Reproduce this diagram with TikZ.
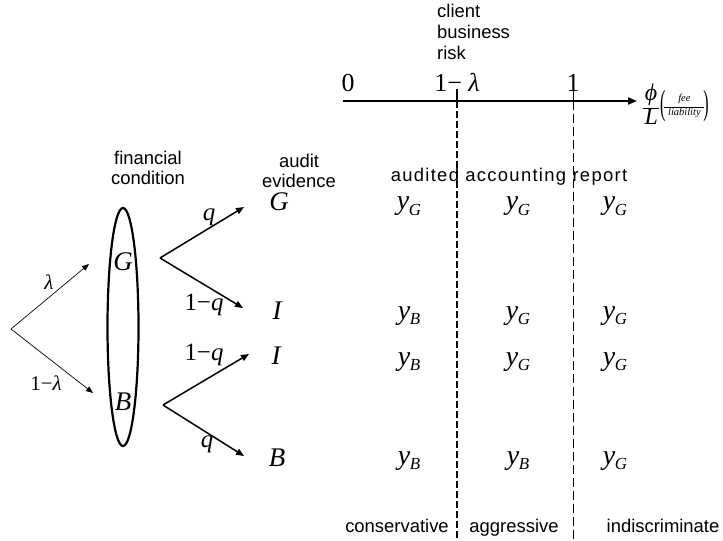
\documentclass[tikz,border=0pt]{standalone}
\usepackage{fontspec}
\setmainfont{Liberation Sans}
\newfontfamily\tms{Liberation Serif}
\usetikzlibrary{arrows.meta}
\newcommand\mi[1]{{\tms\itshape #1}}
\newcommand\myv[1]{{\tms\itshape y\kern-0.5pt\raisebox{-0.2em}{\fontsize{17}{17}\selectfont #1}}}
\newcommand\tallparen[1]{\raisebox{-0.28em}{\scalebox{0.8}[1.75]{\fontsize{20}{20}\tms #1}}}
\begin{document}
\begin{tikzpicture}[x=1bp,y=-1bp,
  lab/.style={font=\fontsize{18.5}{20}\selectfont, align=center, inner sep=0pt},
  blab/.style={font=\fontsize{18.5}{20}\selectfont, inner sep=0pt, anchor=base},
  mlab/.style={font=\fontsize{27}{29}\tms\itshape, inner sep=0pt},
  ylab/.style={font=\fontsize{28}{30}\selectfont, inner sep=0pt, anchor=base},
  plab/.style={font=\fontsize{26}{28}\tms, inner sep=0pt, anchor=base},
  slab/.style={font=\fontsize{21}{23}\tms, inner sep=0pt},
  qlab/.style={font=\fontsize{25}{27}\tms, inner sep=0pt},
  thinarr/.style={-{Triangle[length=7bp,width=5.5bp]}, line width=0.7bp},
  thkarr/.style={-{Triangle[length=8bp,width=6.5bp]}, line width=1.5bp},
  ]
\useasboundingbox (0,0) rectangle (723,541);
% axis
\coordinate (ax0) at (343,101);
\coordinate (ax1) at (637,101);
\draw[-{Triangle[length=9bp,width=7bp]}, line width=1.9bp] (ax0) -- (ax1);
\node[plab] (zero) at (348,92) {0};
\node[plab] (oneml) at (457,92) {1− \mi{λ}};
\node[plab] (one) at (573,92) {1};
\node[anchor=west, inner sep=0pt] (phi) at (643,106) {%
  \begin{tabular}{@{}c@{}}{\fontsize{24}{24}\tms\itshape ϕ}\\[-5pt]\rule{16pt}{0.6pt}\\[-3pt]{\fontsize{24}{24}\tms\itshape L}\end{tabular}%
  \kern1pt$\vcenter{\hbox{\tallparen{(}}}\kern-1pt\vcenter{\hbox{\begin{tabular}{@{}c@{}}{\fontsize{10.5}{10.5}\tms\itshape fee}\\[-6pt]\rule{40pt}{0.5pt}\\[-4pt]{\fontsize{10.5}{10.5}\tms\itshape liability}\end{tabular}}}\kern-1pt\vcenter{\hbox{\tallparen{)}}}$};
\node[blab, anchor=base west] (cbr1) at (437,18) {client};
\node[blab, anchor=base west] (cbr2) at (437,39) {business};
\node[blab, anchor=base west] (cbr3) at (437,60) {risk};
% ticks and dashed lines
\coordinate (t1a) at (457,89);
\coordinate (t1b) at (457,541);
\coordinate (t2a) at (573,89);
\coordinate (t2b) at (573,541);
\draw[line width=2.6bp] (t1a) -- (457,101);
\draw[line width=2.6bp, dash pattern=on 7bp off 3bp] (457,101) -- (t1b);
\draw[line width=0.7bp] (t2a) -- (573,101);
\draw[line width=0.7bp, dash pattern=on 9bp off 4bp] (573,101) -- (t2b);
% headings
\node[blab] (aar) at (509,182) {\addfontfeature{LetterSpace=7}audited accounting report};
\node[lab] (fc) at (148,168) {financial\\condition};
\node[lab] (ae) at (299,171) {audit\\evidence};
% ellipse
\draw[line width=2.2bp] (123,327) ellipse [x radius=15.5, y radius=119];
\node[mlab] (sG) at (123,262) {G};
\node[mlab] (sB) at (123,402) {B};
% root branches
\coordinate (root) at (11,329);
\coordinate (rG) at (89,264);
\coordinate (rB) at (93,393);
\draw[thinarr] (root) -- (rG);
\draw[thinarr] (root) -- (rB);
\node[slab] (lam) at (49,282) {\mi{λ}};
\node[slab] (olam) at (46,383) {1−\mi{λ}};
% evidence branches from G
\coordinate (vG) at (160,258);
\coordinate (eGG) at (244,207);
\coordinate (eGI) at (243,308);
\draw[thkarr] (vG) -- (eGG);
\draw[thkarr] (vG) -- (eGI);
\node[qlab] (qa) at (209,217) {\mi{q}};
\node[qlab] (oqa) at (204,305) {1−\mi{q}};
% evidence branches from B
\coordinate (vB) at (163,405);
\coordinate (eBI) at (249,354);
\coordinate (eBB) at (244,456);
\draw[thkarr] (vB) -- (eBI);
\draw[thkarr] (vB) -- (eBB);
\node[qlab] (oqb) at (204,355) {1−\mi{q}};
\node[qlab] (qb) at (207,444) {\mi{q}};
% evidence labels
\node[mlab] (eG) at (279,202) {G};
\node[mlab] (eI1) at (277,311) {I};
\node[mlab] (eI2) at (276,356) {I};
\node[mlab] (eB) at (277,458) {B};
% y table
\node[ylab] (y11) at (409,210) {\myv{G}};
\node[ylab] (y12) at (518,210) {\myv{G}};
\node[ylab] (y13) at (615,210) {\myv{G}};
\node[ylab] (y21) at (409,319) {\myv{B}};
\node[ylab] (y22) at (518,319) {\myv{G}};
\node[ylab] (y23) at (615,319) {\myv{G}};
\node[ylab] (y31) at (409,365) {\myv{B}};
\node[ylab] (y32) at (518,365) {\myv{G}};
\node[ylab] (y33) at (615,365) {\myv{G}};
\node[ylab] (y41) at (409,464) {\myv{B}};
\node[ylab] (y42) at (518,464) {\myv{B}};
\node[ylab] (y43) at (615,464) {\myv{G}};
% bottom labels
\node[blab] (cons) at (397,532) {conservative};
\node[blab] (aggr) at (514,532) {aggressive};
\node[blab] (indi) at (663,532) {indiscriminate};
\end{tikzpicture}
\end{document}
